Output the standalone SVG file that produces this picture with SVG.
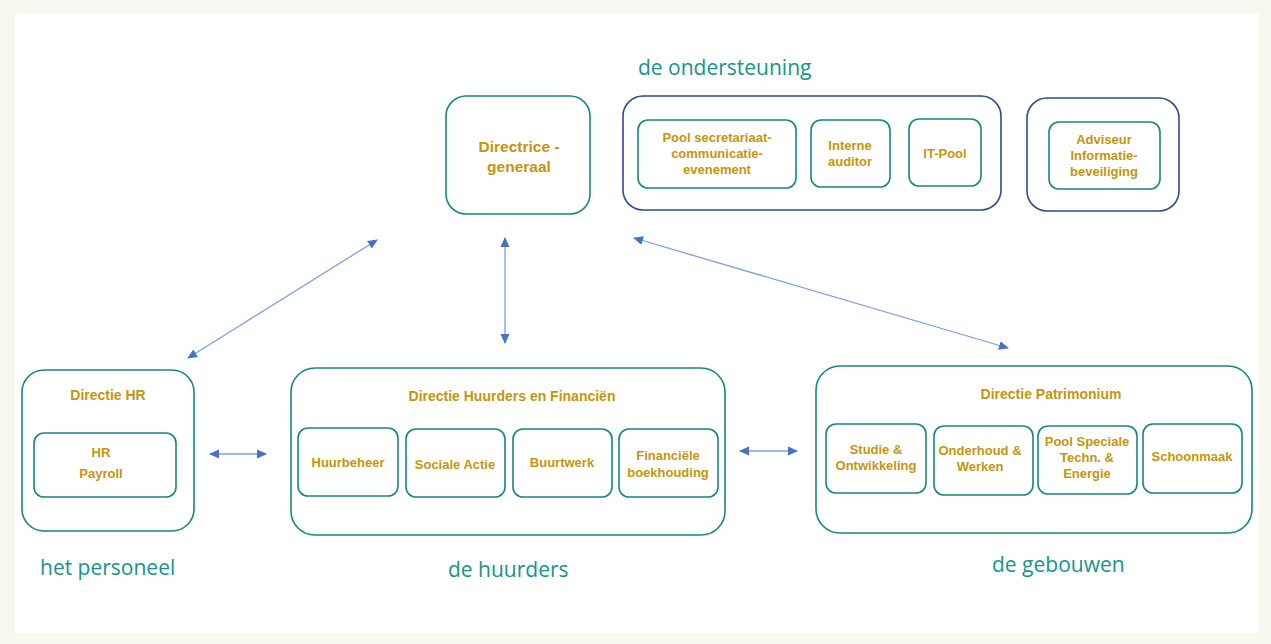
<svg xmlns="http://www.w3.org/2000/svg" width="1271" height="644" viewBox="0 0 1271 644">
<style>
.t{fill:none;stroke:#18877e;stroke-width:1.6}
.n{fill:none;stroke:#2e4893;stroke-width:1.6}
.l{font-family:"Liberation Sans",Arial,sans-serif;font-weight:bold;font-size:13px;fill:#c4950e;text-anchor:middle}
.ti{font-size:14px}
.big{font-size:15.5px}
.h{font-family:"Open Sans","Liberation Sans",sans-serif;font-size:21px;fill:#16948a}
.c{stroke:#7f9fdc;stroke-width:1.3;fill:none;marker-start:url(#a);marker-end:url(#a)}
</style>
<defs>
<marker id="a" viewBox="0 0 10 10" refX="9" refY="5" markerWidth="10" markerHeight="10" markerUnits="userSpaceOnUse" orient="auto-start-reverse">
<path d="M0,0.5 L10,5 L0,9.5 z" fill="#4472c4"/>
</marker>
</defs>
<rect x="0" y="0" width="1271" height="644" fill="#f7f8f0"/>
<rect x="15" y="13" width="1244" height="620" fill="#ffffff"/>

<g id="label-ondersteuning"><text class="h" x="638" y="75">de ondersteuning</text></g>
<g id="label-personeel"><text class="h" x="40" y="575">het personeel</text></g>
<g id="label-huurders"><text class="h" x="448" y="577">de huurders</text></g>
<g id="label-gebouwen"><text class="h" x="992" y="572">de gebouwen</text></g>

<g id="directrice">
<rect class="t" x="446" y="96" width="144" height="118" rx="20"/>
<text class="l big" x="519" y="152">Directrice -</text>
<text class="l big" x="519" y="172">generaal</text>
</g>

<g id="ondersteuning">
<rect class="n" x="623" y="96" width="378" height="114" rx="20"/>
<g id="pool-secretariaat">
<rect class="t" x="638" y="120" width="158" height="68" rx="10"/>
<text class="l" x="717" y="142">Pool secretariaat-</text>
<text class="l" x="717" y="158">communicatie-</text>
<text class="l" x="717" y="174">evenement</text>
</g>
<g id="interne-auditor">
<rect class="t" x="811" y="120" width="79" height="67" rx="10"/>
<text class="l" x="850" y="150">Interne</text>
<text class="l" x="850" y="166">auditor</text>
</g>
<g id="it-pool">
<rect class="t" x="909" y="119" width="72" height="67" rx="10"/>
<text class="l" x="945" y="158">IT-Pool</text>
</g>
</g>

<g id="adviseur">
<rect class="n" x="1027" y="98" width="152" height="113" rx="20"/>
<rect class="t" x="1049" y="122" width="111" height="67" rx="10"/>
<text class="l" x="1104" y="144">Adviseur</text>
<text class="l" x="1104" y="160">Informatie-</text>
<text class="l" x="1104" y="176">beveiliging</text>
</g>

<g id="directie-hr">
<rect class="t" x="22" y="370" width="172" height="161" rx="22"/>
<text class="l ti" x="108" y="400">Directie HR</text>
<rect class="t" x="34" y="433" width="142" height="64" rx="10"/>
<text class="l" x="101" y="457">HR</text>
<text class="l" x="101" y="478">Payroll</text>
</g>

<g id="directie-huurders">
<rect class="t" x="291" y="368" width="434" height="167" rx="24"/>
<text class="l ti" x="512" y="401">Directie Huurders en Financiën</text>
<g id="huurbeheer"><rect class="t" x="298" y="428" width="100" height="68" rx="10"/><text class="l" x="348" y="467">Huurbeheer</text></g>
<g id="sociale-actie"><rect class="t" x="406" y="429" width="99" height="68" rx="10"/><text class="l" x="455" y="469">Sociale Actie</text></g>
<g id="buurtwerk"><rect class="t" x="513" y="429" width="99" height="68" rx="10"/><text class="l" x="562" y="467">Buurtwerk</text></g>
<g id="financiele"><rect class="t" x="619" y="429" width="99" height="68" rx="10"/><text class="l" x="668" y="460">Financiële</text><text class="l" x="668" y="477">boekhouding</text></g>
</g>

<g id="directie-patrimonium">
<rect class="t" x="816" y="366" width="436" height="167" rx="24"/>
<text class="l ti" x="1051" y="399">Directie Patrimonium</text>
<g id="studie"><rect class="t" x="826" y="424" width="100" height="69" rx="10"/><text class="l" x="876" y="454">Studie &amp;</text><text class="l" x="876" y="470">Ontwikkeling</text></g>
<g id="onderhoud"><rect class="t" x="934" y="426" width="99" height="69" rx="10"/><text class="l" x="980" y="455">Onderhoud &amp;</text><text class="l" x="980" y="471">Werken</text></g>
<g id="pool-speciale"><rect class="t" x="1038" y="426" width="99" height="68" rx="10"/><text class="l" x="1087" y="446">Pool Speciale</text><text class="l" x="1087" y="462">Techn. &amp;</text><text class="l" x="1087" y="478">Energie</text></g>
<g id="schoonmaak"><rect class="t" x="1143" y="424" width="99" height="69" rx="10"/><text class="l" x="1192" y="461">Schoonmaak</text></g>
</g>

<g id="connectors">
<line class="c" x1="188" y1="358" x2="377" y2="240"/>
<line class="c" x1="505" y1="238" x2="505" y2="343"/>
<line class="c" x1="634" y1="238" x2="1008" y2="348"/>
<line class="c" x1="210" y1="454" x2="266" y2="454"/>
<line class="c" x1="740" y1="451" x2="797" y2="451"/>
</g>
</svg>
